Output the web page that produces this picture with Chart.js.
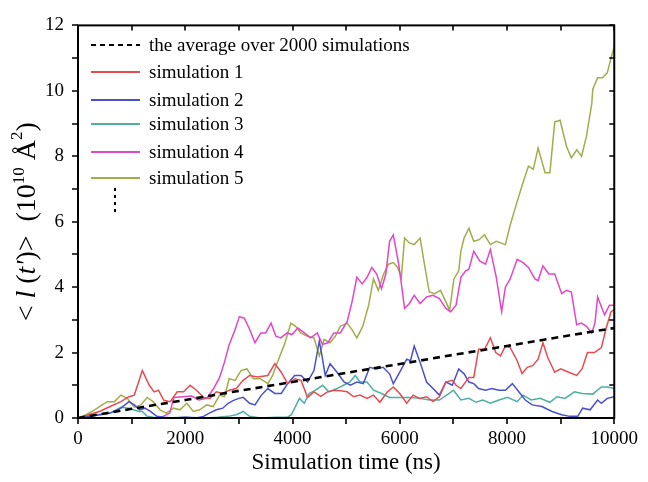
<!DOCTYPE html>
<html><head><meta charset="utf-8">
<script src="https://cdn.jsdelivr.net/npm/chart.js@4.4.1/dist/chart.umd.min.js"></script>
<style>html,body{margin:0;padding:0;background:#fff}#wrap{width:648px;height:482px}</style>
</head><body><div id="wrap"><canvas id="c" width="648" height="482"></canvas></div>
<script>
const seriesLabels = ['the average over 2000 simulations','simulation 1','simulation 2','simulation 3','simulation 4','simulation 5'];
const seriesColors = ['#000000','#e64b52','#4a50cc','#4fb0a2','#e346c6','#a2ac4c'];
const xTickLabels = [0,2000,4000,6000,8000,10000];
const yTickLabels = [0,2,4,6,8,10,12];

const avgT = [0,1000,2000,3000,4000,5000,6000,7000,8000,9000,10000];
const avgV = [0,0.28,0.55,0.83,1.1,1.38,1.65,1.93,2.2,2.48,2.75];

const s1T = [0,200,400,600,800,950,1050,1200,1330,1420,1500,1600,1720,1850,1970,2090,2210,2340,2460,2580,2700,2820,2950,3080,3200,3350,3540,3670,3790,3910,4050,4160,4280,4400,4530,4650,4770,4900,5020,5140,5260,5390,5510,5630,5760,5880,6000,6130,6250,6370,6500,6620,6740,6860,6980,7050,7140,7290,7380,7470,7580,7690,7790,7880,7970,8060,8190,8280,8380,8480,8580,8670,8760,8890,9000,9150,9300,9400,9500,9630,9760,9850,9940,10000];
const s1V = [0,0.1,0.2,0.35,0.5,0.65,0.7,1.45,1.0,0.8,0.85,0.54,0.5,0.8,0.8,1.0,0.85,0.63,0.6,0.8,0.75,0.85,0.9,1.15,1.3,1.25,1.3,1.66,1.4,1.05,1.2,1.15,0.63,0.8,0.66,0.8,0.85,0.83,0.8,0.65,0.7,0.6,0.7,0.48,0.78,0.95,0.75,0.45,0.7,0.6,0.65,0.5,0.65,1.1,1.15,1.0,0.9,1.24,1.24,2.1,2.1,2.45,2.0,1.9,2.2,2.15,1.75,1.36,1.55,1.6,1.8,2.3,1.85,1.4,1.5,1.4,1.3,1.5,2.0,2.0,2.15,2.75,3.25,3.3];

const s2T = [0,200,400,600,800,950,1050,1150,1250,1350,1470,1600,1800,2000,2200,2340,2450,2580,2700,2800,2900,3000,3080,3200,3300,3420,3540,3670,3790,3910,4040,4160,4280,4400,4500,4550,4610,4700,4830,4960,5080,5200,5320,5440,5560,5690,5810,5880,6000,6130,6200,6270,6380,6500,6620,6740,6860,6980,7100,7200,7290,7380,7470,7600,7720,7850,7970,8100,8220,8340,8470,8650,8840,9020,9170,9320,9410,9550,9690,9760,9870,10000];
const s2V = [0,0.05,0.1,0.15,0.3,0.5,0.4,0.25,0.3,0.2,0.05,0.02,0,0.02,0,0.05,0.15,0.25,0.3,0.45,0.54,0.6,0.63,0.45,0.4,0.7,0.9,0.75,0.75,1.05,1.3,1.3,1.1,1.45,2.35,1.9,1.3,1.66,1.4,1.1,1.0,1.1,1.05,1.55,1.5,1.55,1.35,1.05,1.4,1.8,1.75,2.2,1.7,1.1,0.9,0.7,1.1,1.0,1.5,1.35,1.1,1.05,0.9,0.85,0.9,0.85,0.85,1.05,0.8,0.55,0.4,0.35,0.2,0.1,0.05,0.05,0.3,0.25,0.55,0.45,0.6,0.65];

const s3T = [0,200,400,600,800,950,1130,1200,1290,1400,1600,2000,2400,2600,2800,2950,3080,3200,3400,3700,3900,3980,4130,4220,4310,4430,4560,4680,4830,4950,5070,5170,5260,5390,5510,5660,5810,6000,6200,6380,6550,6740,6920,7000,7050,7140,7290,7420,7550,7690,7850,8010,8190,8300,8450,8620,8800,8930,9080,9260,9400,9600,9760,9880,10000];
const s3V = [0,0.05,0.1,0.15,0.33,0.3,0.2,0.2,0.05,0.02,0,0.02,0,0.02,0.05,0.1,0.2,0.05,0,0.02,0.02,0.1,0.6,0.45,0.75,0.85,1.0,0.8,0.9,1.0,1.1,1.3,1.1,1.1,0.85,0.75,0.63,0.63,0.63,0.6,0.55,0.55,0.75,0.85,0.75,0.55,0.6,0.48,0.55,0.45,0.55,0.63,0.5,0.7,0.55,0.6,0.48,0.65,0.6,0.8,0.75,0.73,0.95,0.95,0.9];

const s4T = [0,500,1000,1530,1710,1790,1950,2120,2250,2400,2530,2640,2730,2820,2920,3010,3100,3190,3300,3410,3500,3600,3690,3780,3900,3990,4100,4220,4340,4460,4560,4660,4770,4890,5020,5110,5200,5300,5390,5480,5570,5660,5740,5810,5880,5980,6030,6090,6180,6270,6380,6500,6620,6740,6860,6950,7050,7140,7230,7290,7380,7490,7600,7690,7800,7900,7970,8060,8190,8300,8400,8520,8580,8670,8780,8890,9020,9110,9200,9300,9390,9480,9580,9640,9690,9760,9820,9910,10000];
const s4V = [0,0,0,0,0.15,0.63,0.65,0.67,0.55,0.6,0.9,1.24,1.7,2.25,2.66,3.1,3.05,2.75,2.3,2.6,2.6,2.9,2.5,2.45,2.6,2.55,2.75,2.6,2.45,2.6,2.25,2.3,2.6,2.6,2.95,3.55,4.3,4.1,4.3,4.6,4.4,3.95,4.4,5.4,5.6,4.7,4.1,3.35,3.5,3.75,3.5,3.7,3.75,3.65,3.35,3.25,3.45,4.3,4.5,4.55,5.1,4.8,4.7,5.15,4.3,3.25,4.0,4.25,4.85,4.75,4.6,4.25,4.2,4.65,4.4,4.4,3.8,3.9,3.85,2.85,2.9,2.8,2.6,2.9,3.7,3.4,3.15,3.45,3.45];

const s5T = [0,150,310,450,550,680,800,920,1050,1170,1290,1400,1530,1650,1780,1900,2030,2150,2270,2400,2520,2640,2730,2820,2930,3040,3150,3270,3400,3540,3630,3730,3850,3970,4060,4150,4280,4400,4500,4590,4700,4800,4890,5020,5110,5200,5310,5420,5510,5600,5700,5790,5880,5960,6030,6090,6180,6270,6380,6460,6550,6650,6760,6860,6930,7010,7100,7140,7200,7290,7380,7480,7580,7690,7800,7970,8060,8150,8280,8400,8490,8580,8710,8800,8890,8990,9110,9200,9300,9390,9480,9580,9600,9690,9780,9870,9940,10000];
const s5V = [0,0.1,0.25,0.4,0.5,0.5,0.7,0.6,0.33,0.4,0.63,0.5,0.25,0.15,0.3,0.25,0.45,0.2,0.25,0.4,0.35,0.7,0.65,1.2,1.15,1.45,1.5,1.2,1.2,1.05,1.3,1.75,2.25,2.9,2.8,2.6,2.5,2.45,1.9,2.4,2.3,2.5,2.8,2.9,2.7,2.45,2.8,3.45,4.25,3.9,4.4,4.7,4.75,4.6,4.3,5.5,5.35,5.3,5.5,4.7,3.85,3.8,3.9,3.55,3.3,4.25,4.5,5.1,5.5,5.8,5.4,5.45,5.6,5.3,5.4,5.3,5.9,6.4,7.1,7.7,7.6,8.25,7.5,7.5,9.05,9.1,8.3,7.95,8.2,8.0,8.6,9.6,10.05,10.4,10.4,10.55,11.0,11.35];

const seriesT = [avgT,s1T,s2T,s3T,s4T,s5T];
const seriesV = [avgV,s1V,s2V,s3V,s4V,s5V];

const SERIF = '"Liberation Serif","Times New Roman",serif';

const datasets = seriesLabels.map((lab,i)=>({
  label: lab,
  data: seriesT[i].map((t,j)=>({x:t,y:seriesV[i][j]})),
  borderColor: seriesColors[i],
  backgroundColor: seriesColors[i],
  borderWidth: i===0 ? 2.6 : 1.5,
  borderDash: i===0 ? [7,5] : [],
  pointRadius: 0,
  tension: 0,
  fill: false
}));

const deco = {
  id:'deco',
  afterDraw(chart){
    const ctx = chart.ctx, a = chart.chartArea, xs = chart.scales.x, ys = chart.scales.y;
    ctx.save();
    ctx.strokeStyle = '#000'; ctx.lineWidth = 2; ctx.setLineDash([]);
    ctx.strokeRect(a.left, a.top, a.right-a.left, a.bottom-a.top);
    ctx.lineWidth = 1.6;
    ctx.beginPath();
    for (let v = 0; v <= 10000; v += 1000) {
      const px = Math.round(xs.getPixelForValue(v));
      ctx.moveTo(px, a.bottom); ctx.lineTo(px, a.bottom + 6);
      ctx.moveTo(px, a.top); ctx.lineTo(px, a.top + 5);
    }
    for (let v = 0; v <= 12; v += 1) {
      const py = Math.round(ys.getPixelForValue(v));
      ctx.moveTo(a.left - 6, py); ctx.lineTo(a.left, py);
      ctx.moveTo(a.right - 5, py); ctx.lineTo(a.right, py);
    }
    ctx.stroke();

    const rows = [45,72,100,124,152,178];
    ctx.font = '19px ' + SERIF; ctx.textBaseline = 'middle'; ctx.textAlign = 'left';
    rows.forEach((ry,i)=>{
      ctx.strokeStyle = seriesColors[i];
      ctx.lineWidth = i===0 ? 2.2 : 2;
      ctx.setLineDash(i===0 ? [5,4] : []);
      ctx.beginPath(); ctx.moveTo(91, ry); ctx.lineTo(140, ry); ctx.stroke();
      ctx.fillStyle = '#000';
      ctx.fillText(seriesLabels[i], 149, ry + 1);
    });
    ctx.strokeStyle = '#000'; ctx.lineWidth = 2; ctx.setLineDash([3,4]);
    ctx.beginPath(); ctx.moveTo(115, 188); ctx.lineTo(115, 216); ctx.stroke();
    ctx.setLineDash([]);

    ctx.fillStyle = '#000';
    ctx.font = '23px ' + SERIF; ctx.textAlign = 'center'; ctx.textBaseline = 'middle';
    ctx.fillText('Simulation time (ns)', (a.left + a.right)/2, 463);

    const fs = 28;
    const segs = [
      ['< ', 'normal', 0, 1],
      ['l', 'italic', 0, 1],
      [' (', 'normal', 0, 1],
      ["t'", 'italic', 0, 1],
      [')>  (10', 'normal', 0, 1],
      ['10', 'normal', -0.38, 0.62],
      [' Å', 'normal', 0, 1],
      ['2', 'normal', -0.45, 0.62],
      [')', 'normal', 0, 1]
    ];
    let total = 0;
    segs.forEach(s=>{ ctx.font = s[1] + ' ' + Math.round(fs*s[3]) + 'px ' + SERIF; s.push(ctx.measureText(s[0]).width); total += s[4]; });
    ctx.translate(35, (a.top + a.bottom)/2);
    ctx.rotate(-Math.PI/2);
    ctx.textAlign = 'left'; ctx.textBaseline = 'alphabetic';
    let cx = -total/2;
    segs.forEach(s=>{
      ctx.font = s[1] + ' ' + Math.round(fs*s[3]) + 'px ' + SERIF;
      ctx.fillText(s[0], cx, s[2]*fs);
      cx += s[4];
    });
    ctx.restore();
  }
};

new Chart(document.getElementById('c'), {
  type: 'line',
  data: { datasets },
  options: {
    responsive: false,
    animation: false,
    devicePixelRatio: 1,
    layout: { padding: { left: 0, top: 21, right: 28, bottom: 0 } },
    plugins: { legend: { display: false }, tooltip: { enabled: false } },
    scales: {
      x: {
        type: 'linear', min: 0, max: 10000,
        grid: { display: false, drawTicks: false },
        border: { display: false },
        afterFit: s => { s.height = 64; },
        afterBuildTicks: s => { s.ticks = xTickLabels.map(v=>({value:v})); },
        ticks: { autoSkip: false, maxRotation: 0, padding: 10, color: '#000', font: { family: SERIF, size: 19 }, callback: v => String(v) }
      },
      y: {
        type: 'linear', min: 0, max: 12,
        grid: { display: false, drawTicks: false },
        border: { display: false },
        afterFit: s => { s.width = 78; },
        afterBuildTicks: s => { s.ticks = yTickLabels.map(v=>({value:v})); },
        ticks: { autoSkip: false, padding: 14, color: '#000', font: { family: SERIF, size: 19 }, callback: v => String(v) }
      }
    }
  },
  plugins: [deco]
});
</script></body></html>
